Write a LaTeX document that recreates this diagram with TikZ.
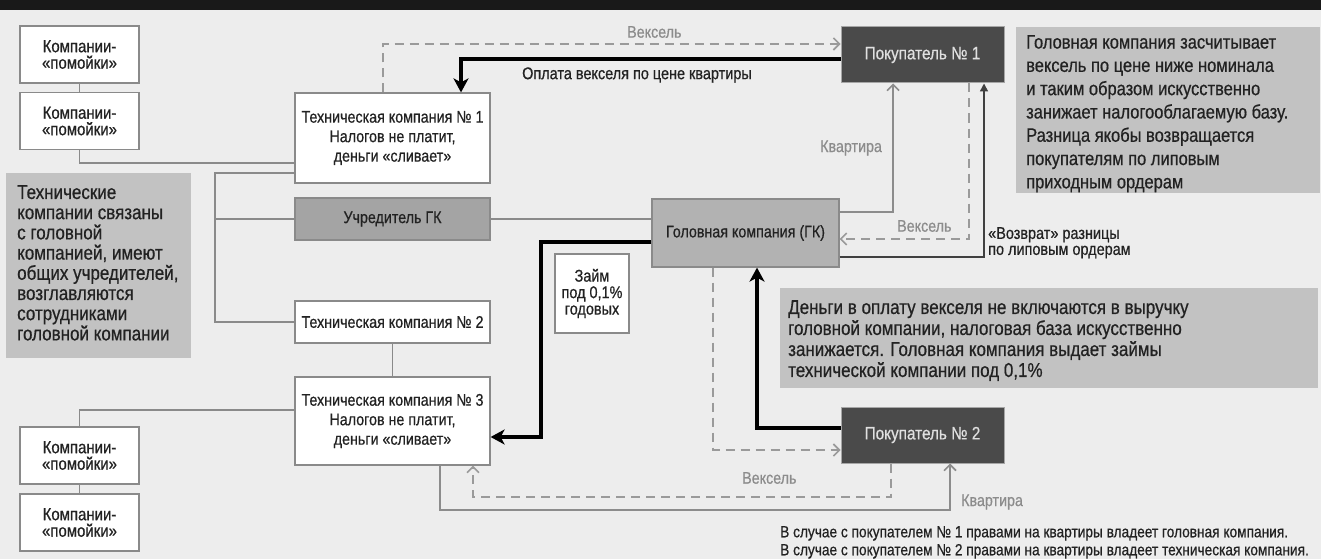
\documentclass[tikz,border=0pt]{standalone}
\usepackage{fontspec}
\setmainfont{Liberation Sans}[FakeStretch=0.85,FakeBold=0.6]
\usetikzlibrary{arrows.meta,calc}
\definecolor{bgc}{HTML}{EDEDED}
\definecolor{linec}{HTML}{8A8A8A}
\definecolor{dashc}{HTML}{9A9A9A}
\definecolor{notec}{HTML}{C2C2C2}
\definecolor{ucol}{HTML}{A4A4A4}
\definecolor{gkcol}{HTML}{B2B2B2}
\definecolor{pcol}{HTML}{4A4A4A}
\definecolor{labc}{HTML}{8C8C8C}
\definecolor{textc}{HTML}{222222}
\definecolor{boxborder}{HTML}{8A8A8A}
\begin{document}
\begin{tikzpicture}[x=1pt,y=-1pt,
  wbox/.style={draw=boxborder, line width=1.2pt, fill=white, align=center, inner sep=2pt, text=textc, font=\fontsize{16.8}{19.5}\selectfont},
  abox/.style={wbox, minimum width=119pt, minimum height=57pt, font=\fontsize{17.6}{16.5}\selectfont},
  tbox/.style={wbox, minimum width=195pt},
  pbox/.style={draw=gray!70, line width=1pt, fill=pcol, text=white!88!black, minimum width=163pt, minimum height=56pt, font=\fontsize{18}{19}\selectfont},
  conn/.style={draw=linec, line width=1.5pt},
  dashconn/.style={draw=dashc, line width=1.6pt, dash pattern=on 9pt off 6pt, -{Straight Barb[length=6pt,width=12pt,line width=1.6pt]}},
  grayarrow/.style={draw=labc, line width=1.6pt, -{Straight Barb[length=6pt,width=12pt,line width=1.6pt]}},
  heavy/.style={draw=black, line width=3.8pt, -{Stealth[length=14pt,width=15pt,inset=4pt]}},
  lab/.style={text=labc, inner sep=0pt, font=\fontsize{16.8}{18}\selectfont},
  blab/.style={text=textc, inner sep=0pt, font=\fontsize{17}{16}\selectfont},
  note/.style={fill=notec, draw=none},
  notetext/.style={text=textc, inner sep=0pt, align=left, anchor=north west}
]
\useasboundingbox (0,0) rectangle (1321,559);
% background and top bar
\fill[bgc] (0,0) rectangle (1321,559);
\fill[black!90] (0,0) rectangle (1321,10);

% notes
\fill[note] (6,173) rectangle (191,358);
\node[notetext, font=\fontsize{20}{20.2}\selectfont] (n1) at (17,185) {Технические\\компании связаны\\с головной\\компанией, имеют\\общих учредителей,\\возглавляются\\сотрудниками\\головной компании};
\fill[note] (1016,27) rectangle (1320,193);
\node[notetext, font=\fontsize{19.4}{23.3}\selectfont] (n2) at (1026,35) {Головная компания засчитывает\\вексель по цене ниже номинала\\и таким образом искусственно\\занижает налогооблагаемую базу.\\Разница якобы возвращается\\покупателям по липовым\\приходным ордерам};
\fill[note] (780,288) rectangle (1318,388);
\node[notetext, font=\fontsize{20}{21}\selectfont] (n3) at (788,300) {Деньги в оплату векселя не включаются в выручку\\головной компании, налоговая база искусственно\\занижается. Головная компания выдает займы\\технической компании под 0,1\%};
\node[notetext, font=\fontsize{16.1}{18}\selectfont] (n4) at (780,526) {В случае с покупателем № 1 правами на квартиры владеет головная компания.\\В случае с покупателем № 2 правами на квартиры владеет техническая компания.};

% nodes
\node[abox] (a1) at (79.5,54.5) {Компании-\\«помойки»};
\node[abox] (a2) at (79.5,121) {Компании-\\«помойки»};
\node[abox] (a3) at (79.5,455.5) {Компании-\\«помойки»};
\node[abox] (a4) at (79.5,522.5) {Компании-\\«помойки»};
\node[tbox, minimum height=90pt] (t1) at (392.5,138) {Техническая компания № 1\\Налогов не платит,\\деньги «сливает»};
\node[tbox, minimum height=42pt, fill=ucol] (u) at (392.5,219) {Учредитель ГК};
\node[tbox, minimum height=42pt] (t2) at (392.5,322) {Техническая компания № 2};
\node[tbox, minimum height=88pt] (t3) at (392.5,421) {Техническая компания № 3\\Налогов не платит,\\деньги «сливает»};
\node[wbox, fill=gkcol, minimum width=187pt, minimum height=68pt] (gk) at (745.5,233) {Головная компания (ГК)};
\node[wbox, minimum width=74pt, minimum height=79pt, font=\fontsize{17}{16.5}\selectfont] (z) at (592,293.5) {Займ\\под 0,1\%\\годовых};
\node[pbox] (p1) at (922.5,55) {Покупатель № 1};
\node[pbox] (p2) at (922.5,435) {Покупатель № 2};

% plain connectors
\draw[conn] (a1.south) -- (a2.north);
\draw[conn] (a2.south) |- ([yshift=-25pt]t1.west);
\coordinate (bb) at (215,322);
\draw[conn] ([yshift=-35pt]t1.west) -| (bb) -- (t2.west);
\draw[conn] (bb |- u.west) -- (u.west);
\draw[conn] (u.east) -- (u.east -| gk.west);
\draw[conn] (t2.south) -- (t3.north);
\draw[conn] ([yshift=11pt]t3.west) -| (a3.north);
\draw[conn] (a3.south) -- (a4.north);

% heavy arrows
\coordinate (c1) at (461,59);
\draw[heavy] ([yshift=-4pt]p1.west) -- (c1) -- (c1 |- t1.north);
\coordinate (c3) at (541,437);
\draw[heavy] ([yshift=-9pt]gk.west) -| (c3) -- (c3 -| t3.east);
\draw[heavy] ([yshift=7pt]p2.west) -| ([xshift=11.5pt]gk.south);

% dashed bills
\draw[dashconn] ([xshift=-9.5pt]t1.north) |- ([yshift=11pt]p1.west);
\node[lab, anchor=west] (l1) at (627,32) {Вексель};
\draw[dashconn] ([xshift=46.5pt]p1.south) |- ([yshift=-6pt]gk.east);
\node[lab, anchor=west] (l2) at (897,226) {Вексель};
\draw[dashconn] ([xshift=-32.5pt]gk.south) |- ([yshift=-15pt]p2.west);
\node[lab, anchor=west] (l3) at (742,478) {Вексель};
\coordinate (d1) at (891,497);
\coordinate (d2) at (473,497);
\draw[dashconn] ([xshift=-31.5pt]p2.south) -- (d1) -- (d2) -- (d2 |- t3.south);

% apartment arrows
\draw[grayarrow] ([yshift=21pt]gk.east) -| ([xshift=-29.5pt]p1.south);
\node[lab, anchor=west] (l4) at (820,148) {Квартира};
\coordinate (e1) at (440,510);
\coordinate (e2) at (950,510);
\draw[grayarrow] ([xshift=47.5pt]t3.south) -- (e1) -- (e2) -- (e2 |- p2.south);
\node[lab, anchor=west] (l5) at (961,502) {Квартира};

% return of difference
\draw[draw=black!75, line width=1.5pt, -{Triangle[length=8pt,width=8pt]}] ([yshift=-24pt]gk.east) -| ([xshift=61.5pt]p1.south);
\node[blab, anchor=north west, align=left] (l6) at (988,227) {«Возврат» разницы\\по липовым ордерам};

% payment label
\node[blab, anchor=west] (l7) at (522,75) {Оплата векселя по цене квартиры};
\end{tikzpicture}
\end{document}
